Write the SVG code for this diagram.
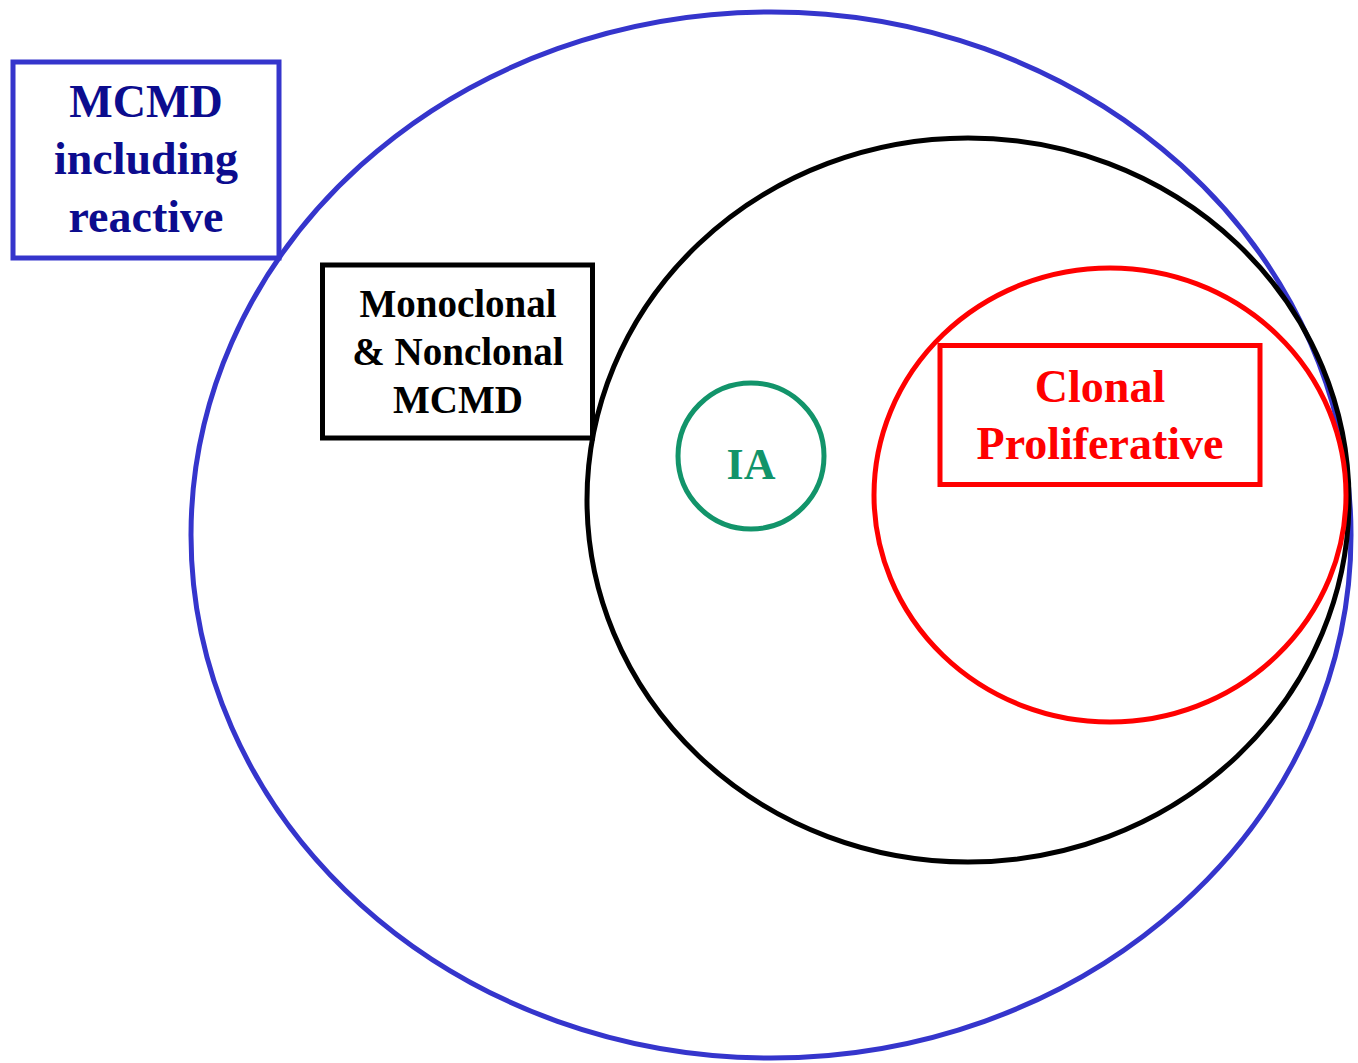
<svg xmlns="http://www.w3.org/2000/svg" width="1358" height="1063" viewBox="0 0 1358 1063">
<style>
text{font-family:"Liberation Serif","Times New Roman",serif;font-weight:bold;text-anchor:middle}
.s{fill:none;stroke-width:5}
</style>
<rect width="1358" height="1063" fill="#fff"/>
<g id="outer"><ellipse class="s" cx="771" cy="535" rx="580" ry="523" stroke="#3535cc"/></g>
<g id="middle"><ellipse class="s" cx="968" cy="500" rx="381" ry="362" stroke="#000"/></g>
<g id="inner"><ellipse class="s" cx="1110" cy="495" rx="236" ry="227" stroke="#ff0000"/></g>
<g id="ia"><circle class="s" cx="751" cy="456" r="73" stroke="#12946a"/>
<text x="751" y="479" font-size="44" fill="#12946a">IA</text></g>
<g id="box-mcmd"><rect class="s" x="13" y="62" width="266" height="196" stroke="#3535cc"/>
<text font-size="46" fill="#0c0c8e"><tspan x="146" y="117">MCMD</tspan><tspan x="146" y="174">including</tspan><tspan x="146" y="232">reactive</tspan></text></g>
<g id="box-mono"><rect class="s" x="322.5" y="265" width="270" height="173" stroke="#000"/>
<text font-size="39" fill="#000"><tspan x="458" y="317">Monoclonal</tspan><tspan x="458" y="365">&amp; Nonclonal</tspan><tspan x="458" y="413">MCMD</tspan></text></g>
<g id="box-clonal"><rect class="s" x="940" y="345.5" width="320" height="139" stroke="#ff0000"/>
<text font-size="46" fill="#ff0000"><tspan x="1100" y="402">Clonal</tspan><tspan x="1100" y="459">Proliferative</tspan></text></g>
<g id="connectors"/>
</svg>
